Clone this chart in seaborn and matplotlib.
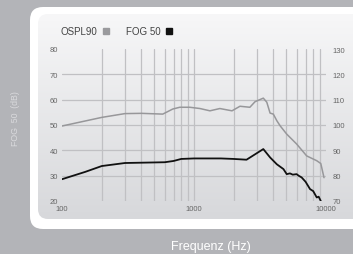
import numpy as np
import seaborn as sns
import matplotlib.pyplot as plt
from matplotlib.patches import FancyBboxPatch
from matplotlib.lines import Line2D
from matplotlib.colors import LinearSegmentedColormap
from matplotlib.ticker import FixedLocator, NullFormatter

# OSPL90 curve, read against the right axis (dB)
ospl_freq = [100, 200, 300, 400, 580, 690, 780, 930, 1110, 1320, 1570, 1940, 2230,
             2650, 2900, 3350, 3560, 3770, 3990, 4240, 4490, 5040, 5990, 7140, 8510,
             9130, 9660]
ospl_db = [99.6, 103.0, 104.5, 104.6, 104.3, 106.3, 107.0, 107.0, 106.5, 105.6, 106.5,
           105.6, 107.4, 107.0, 109.2, 110.6, 109.0, 104.7, 104.3, 101.7, 99.7, 96.4,
           92.5, 87.8, 85.9, 84.8, 79.2]

# FOG 50 curve, read against the left axis (dB)
fog_freq = [100, 150, 200, 300, 600, 700, 800, 1000, 1600, 2000, 2500, 3350, 3770,
            4240, 4760, 5040, 5330, 5600, 5990, 6200, 6540, 7000, 7570, 8000, 8510,
            8800, 9130]
fog_db = [28.6, 31.5, 33.8, 35.0, 35.3, 35.8, 36.6, 36.8, 36.8, 36.6, 36.3, 40.5, 37.2,
          34.5, 32.6, 30.6, 30.9, 30.4, 30.6, 30.0, 29.3, 27.6, 24.7, 23.9, 21.4,
          21.7, 20.0]

left_ticks = [20, 30, 40, 50, 60, 70, 80]
right_ticks = [70, 80, 90, 100, 110, 120, 130]
x_ticks = [100, 1000, 10000]
x_labels = ['100', '1000', '10000']

sns.set_style('white')
plt.rcParams['font.family'] = ['Liberation Sans', 'DejaVu Sans']

W, H = 353, 255
fig = plt.figure(figsize=(W / 100, H / 100), dpi=100)
fig.patch.set_facecolor('#b3b4b8')

# background panel (white frame + soft gradient)
bg = fig.add_axes([0, 0, 1, 1], zorder=0)
bg.axis('off')
outer = FancyBboxPatch((30, 8), 345, 222, boxstyle='round,pad=0,rounding_size=13',
                       fc='white', ec='none')
bg.add_patch(outer)
inner = FancyBboxPatch((38, 15), 340, 205, boxstyle='round,pad=0,rounding_size=10',
                       fc='none', ec='none')
bg.add_patch(inner)
cmap = LinearSegmentedColormap.from_list('panel', ['#f7f7f8', '#d7d8db'])
img = bg.imshow(np.linspace(0, 1, 256).reshape(-1, 1), extent=(38, 378, 220, 15),
                cmap=cmap, aspect='auto', zorder=1)
img.set_clip_path(inner)
bg.set_xlim(0, W)
bg.set_ylim(H, 0)

# main axes
ax = fig.add_axes([62 / W, 1 - 202 / H, 264 / W, 152 / H], zorder=2)
ax.patch.set_alpha(0)
sns.lineplot(x=fog_freq, y=fog_db, ax=ax, color='#111111', lw=1.3)
ax.set_xscale('log')
ax.set_xlim(100, 10000)
ax.set_ylim(20, 80)

ax2 = ax.twinx()
sns.lineplot(x=ospl_freq, y=ospl_db, ax=ax2, color='#97979a', lw=1.1)
ax2.set_ylim(70, 130)

grid_kw = dict(color='#c0c0c3', lw=0.9)
ax.set_xticks(x_ticks)
ax.set_xticklabels(x_labels)
grid_x = [m * 10 ** e for e in (2, 3) for m in range(2, 10)] + [1000]
ax.xaxis.set_minor_locator(FixedLocator(grid_x))
ax.xaxis.set_minor_formatter(NullFormatter())
ax.set_yticks(left_ticks)
ax.yaxis.set_minor_locator(FixedLocator(left_ticks[1:-1]))
ax.xaxis.remove_overlapping_locs = False
ax.yaxis.remove_overlapping_locs = False
ax.grid(False)
ax.grid(True, which='minor', axis='both', **grid_kw)
ax2.set_yticks(right_ticks)
ax2.grid(False)

tick_kw = dict(length=0, labelsize=5.5, labelcolor='#666666')
ax.tick_params(axis='x', which='both', pad=3, **tick_kw)
ax.tick_params(axis='y', which='both', pad=3, **tick_kw)
ax2.tick_params(axis='y', which='both', pad=5, **tick_kw)
for a in (ax, ax2):
    for s in a.spines.values():
        s.set_visible(False)
    a.set_xlabel('')
    a.set_ylabel('')

handles = [Line2D([], [], marker='s', ls='', color='#9a9a9d', markersize=4.5),
           Line2D([], [], marker='s', ls='', color='#111111', markersize=4.5)]
ax.legend(handles, ['OSPL90', 'FOG 50'], loc='lower left', bbox_to_anchor=(-0.005, 1.085),
          ncol=2, markerfirst=False, frameon=False, handlelength=0.7, handletextpad=0.5,
          columnspacing=1.7, borderpad=0, borderaxespad=0,
          prop={'size': 7}, labelcolor='#444444')

fig.text(15 / W, 1 - 119 / H, 'FOG  50  (dB)', rotation=90, ha='center', va='center',
         fontsize=6.3, color='#dadadd')
fig.text(211 / W, 1 - 247 / H, 'Frequenz (Hz)', ha='center', va='center',
         fontsize=9, color='white')

fig.savefig('out.png', dpi=100, facecolor=fig.get_facecolor())
